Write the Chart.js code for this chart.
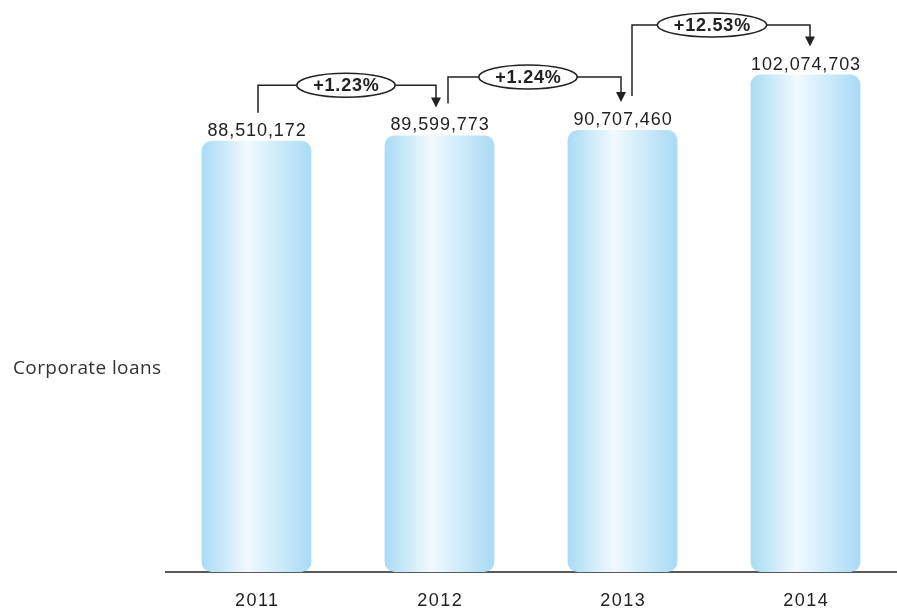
<!DOCTYPE html>
<html>
<head>
<meta charset="utf-8">
<script src="https://cdn.jsdelivr.net/npm/chart.js@4/dist/chart.umd.min.js"></script>
<style>
  html, body { margin: 0; padding: 0; background: #fff; }
  #wrap { position: relative; width: 897px; height: 612px; }
  #sideLabel {
    position: absolute; left: 13px; top: 354px;
    font: 19px "Open Sans", sans-serif; color: #333; letter-spacing: 0.4px;
  }
</style>
</head>
<body>
<div id="wrap">
  <canvas id="loansChart" width="897" height="612"></canvas>
  <div id="sideLabel">Corporate loans</div>
</div>
<script>
// values
const years = ["2011", "2012", "2013", "2014"];
const loans = [88510172, 89599773, 90707460, 102074703];
const growthLabels = ["+1.23%", "+1.24%", "+12.53%"];
// level (in value units) of each connector's horizontal line
const growthLevels = [99900000, 101600000, 112250000];

const BAR_FRACTION = 0.6;
const labelFont = "18px 'Liberation Sans', Arial, sans-serif";

function barGradient(ctx) {
  const chart = ctx.chart;
  const xs = chart.scales.x;
  if (!xs || ctx.dataIndex === undefined) return "#c6e9fa";
  const w = (xs.width / years.length) * BAR_FRACTION;
  const left = xs.getPixelForValue(ctx.dataIndex) - w / 2;
  if (!isFinite(left) || !isFinite(w) || w <= 0) return "#c6e9fa";
  const g = chart.ctx.createLinearGradient(left, 0, left + w, 0);
  g.addColorStop(0, "#a9dbf5");
  g.addColorStop(0.42, "#f1f9fe");
  g.addColorStop(1, "#a8dbf5");
  return g;
}

// baseline line behind the bars
const baseline = {
  id: "baseline",
  beforeDatasetsDraw(chart) {
    const { ctx, chartArea } = chart;
    const y = chart.scales.y.getPixelForValue(0);
    ctx.save();
    ctx.strokeStyle = "#222";
    ctx.lineWidth = 1.5;
    ctx.beginPath();
    ctx.moveTo(chartArea.left, y);
    ctx.lineTo(chartArea.right, y);
    ctx.stroke();
    ctx.restore();
  }
};

// year labels, value labels and growth connectors
const annotations = {
  id: "annotations",
  afterDatasetsDraw(chart) {
    const { ctx } = chart;
    const xs = chart.scales.x, ys = chart.scales.y;
    ctx.save();
    ctx.fillStyle = "#222";
    ctx.textAlign = "center";

    ctx.font = "18px 'Liberation Sans', Arial, sans-serif";
    ctx.letterSpacing = "1.5px";
    ctx.textBaseline = "middle";
    years.forEach((y, i) => {
      ctx.fillText(y, xs.getPixelForValue(i) + 0.75, ys.getPixelForValue(0) + 29);
    });

    ctx.font = labelFont;
    ctx.letterSpacing = "0.9px";
    ctx.textBaseline = "bottom";
    loans.forEach((v, i) => {
      ctx.fillText(v.toLocaleString("en-US"), xs.getPixelForValue(i) + 0.5, ys.getPixelForValue(v) - 1);
    });

    // [start x offset, arrow x offset, ellipse shift, start gap above bar]
    const geo = [[1.5, -3.5, -1, 28], [8.5, -1.5, -6.5, 32], [9.5, 4.5, -9, 34]];
    growthLabels.forEach((txt, i) => {
      const x1 = xs.getPixelForValue(i) + geo[i][0];
      const x2 = xs.getPixelForValue(i + 1) + geo[i][1];
      const yTop = ys.getPixelForValue(growthLevels[i]);
      const y1 = ys.getPixelForValue(loans[i]) - geo[i][3];
      const y2 = ys.getPixelForValue(loans[i + 1]) - 28;
      ctx.strokeStyle = "#222";
      ctx.lineWidth = 1.5;
      ctx.beginPath();
      ctx.moveTo(x1, y1);
      ctx.lineTo(x1, yTop);
      ctx.lineTo(x2, yTop);
      ctx.lineTo(x2, y2 - 8);
      ctx.stroke();
      // arrow head
      ctx.fillStyle = "#222";
      ctx.beginPath();
      ctx.moveTo(x2 - 5, y2 - 10);
      ctx.lineTo(x2 + 5, y2 - 10);
      ctx.lineTo(x2, y2);
      ctx.closePath();
      ctx.fill();
      // ellipse with label
      const cx = (x1 + x2) / 2 + geo[i][2];
      ctx.font = "bold 18px 'Liberation Sans', Arial, sans-serif";
      ctx.letterSpacing = "0.8px";
      const rx = ctx.measureText(txt).width / 2 + 16;
      ctx.beginPath();
      ctx.ellipse(cx, yTop, rx, 12, 0, 0, Math.PI * 2);
      ctx.fillStyle = "#fff";
      ctx.fill();
      ctx.stroke();
      ctx.fillStyle = "#222";
      ctx.textBaseline = "middle";
      ctx.fillText(txt, cx + 0.4, yTop + 1);
    });
    ctx.restore();
  }
};

new Chart(document.getElementById("loansChart"), {
  type: "bar",
  data: {
    labels: years,
    datasets: [{
      label: "Corporate loans",
      data: loans,
      backgroundColor: barGradient,
      borderWidth: 0,
      borderRadius: 10,
      borderSkipped: false,
      barPercentage: BAR_FRACTION,
      categoryPercentage: 1
    }]
  },
  options: {
    responsive: false,
    animation: false,
    layout: { padding: { left: 165, right: 0, top: 36, bottom: 40 } },
    plugins: { legend: { display: false }, tooltip: { enabled: false } },
    scales: {
      x: {
        grid: { display: false, drawTicks: false },
        border: { display: false },
        ticks: { display: false }
      },
      y: {
        display: false,
        min: 0,
        max: 110000000
      }
    }
  },
  plugins: [baseline, annotations]
});
</script>
</body>
</html>
